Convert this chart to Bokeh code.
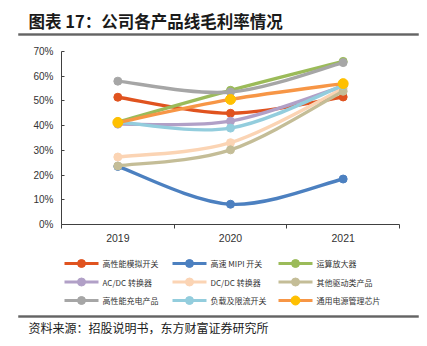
from bokeh.plotting import figure
from bokeh.layouts import column
from bokeh.models import Range1d, FixedTicker, PrintfTickFormatter, BoxAnnotation
from bokeh.core.properties import value
from bokeh.embed import file_html
from bokeh.resources import INLINE

# ---------------- data ----------------
years = ["2019", "2020", "2021"]
y_ticks = [0, 10, 20, 30, 40, 50, 60, 70]

names = ["高性能模拟开关", "高速 MIPI 开关", "运算放大器",
         "AC/DC 转换器", "DC/DC 转换器", "其他驱动类产品",
         "高性能充电产品", "负载及限流开关", "通用电源管理芯片"]

analog_switch = [51.5, 45.0, 51.6]
mipi_switch = [23.5, 8.2, 18.4]
op_amp = [41.5, 54.3, 66.0]
acdc = [40.6, 41.8, 56.0]
dcdc = [27.3, 33.1, 55.0]
other_driver = [23.7, 30.2, 53.9]
charging = [58.0, 53.6, 65.5]
load_switch = [41.5, 39.0, 56.3]
pmic = [41.3, 50.6, 57.0]

series = [analog_switch, mipi_switch, op_amp, acdc, dcdc, other_driver,
          charging, load_switch, pmic]

title_text = "图表 17：公司各产品线毛利率情况"
source_text = "资料来源：招股说明书，东方财富证券研究所"

line_colors = ["#E0531F", "#4C80C0", "#9BBB59", "#B1A0C7", "#FBD4B4",
               "#C4BD97", "#A6A6A6", "#93CDDD", "#F79646"]
marker_colors = ["#E0531F", "#4C80C0", "#9BBB59", "#B1A0C7", "#FBD4B4",
                 "#C4BD97", "#A6A6A6", "#93CDDD", "#FFC000"]
marker_sizes = [8, 8, 8, 8, 8, 8, 8, 8, 10]

W = 427
HEAD_H = 40
MAIN_H = 208
FOOT_H = 98
CJK = value("Noto Sans CJK SC")


def blank(height):
    f = figure(width=W, height=height, output_backend="svg",
               toolbar_location=None, frame_align=False,
               x_range=Range1d(0, W), y_range=Range1d(0, height),
               x_axis_location=None, y_axis_location=None,
               min_border=0, min_border_left=0, min_border_right=0,
               min_border_top=0, min_border_bottom=0, outline_line_color=None,
               background_fill_color="white", border_fill_color="white")
    f.xgrid.visible = False
    f.ygrid.visible = False
    return f


def rule(fig, y_data):
    fig.add_layout(BoxAnnotation(left=18, right=418, bottom=y_data - 0.9, top=y_data + 0.9,
                                 fill_color="#666666", fill_alpha=1.0,
                                 line_color="#666666", line_alpha=1.0, line_width=0.5,
                                 level="overlay"))


# ---------------- header ----------------
head = blank(HEAD_H)
hy = lambda y: HEAD_H - y  # canvas-from-top -> data-from-bottom
head.text(x=[28], y=[hy(20.5)], text=[title_text], text_font=CJK,
          text_font_style="bold", text_font_size="16.5px", text_color="#1a1a1a",
          text_baseline="middle", text_align="left")
rule(head, hy(34))

# ---------------- main chart ----------------
FL, FR, FT, FB = 61, 28, 11, 24
p = figure(width=W, height=MAIN_H, output_backend="svg", toolbar_location=None,
           frame_align=False,
           x_range=Range1d(0, len(years)), y_range=Range1d(0, 70),
           min_border_left=FL, min_border_right=FR, min_border_top=FT,
           min_border_bottom=FB, background_fill_color="white",
           border_fill_color="white", outline_line_color=None)
p.xgrid.visible = False
p.ygrid.visible = False

xpos = [i + 0.5 for i in range(len(years))]

xa = p.xaxis[0]
xa.ticker = FixedTicker(ticks=xpos, minor_ticks=[float(i) for i in range(len(years) + 1)])
xa.major_label_overrides = {xpos[i]: years[i] for i in range(len(years))}
xa.major_tick_line_color = None
xa.major_tick_out = 0
xa.major_tick_in = 0
xa.minor_tick_in = 0
xa.minor_tick_out = 4
xa.minor_tick_line_color = "#404040"
xa.axis_line_color = "#404040"
xa.major_label_standoff = 5
xa.major_label_text_font = "Liberation Sans"
xa.major_label_text_font_size = "10.5px"
xa.major_label_text_color = "#333333"

ya = p.yaxis[0]
ya.ticker = FixedTicker(ticks=y_ticks, minor_ticks=[])
ya.formatter = PrintfTickFormatter(format="%d%%")
ya.major_tick_in = 3
ya.major_tick_out = 0
ya.major_tick_line_color = "#404040"
ya.minor_tick_line_color = None
ya.axis_line_color = "#404040"
ya.major_label_standoff = 8
ya.major_label_text_font = "Liberation Sans"
ya.major_label_text_font_size = "10px"
ya.major_label_text_color = "#333333"


def smooth_segments(xs, ys):
    n = len(xs)
    out = dict(x0=[], y0=[], x1=[], y1=[], cx0=[], cy0=[], cx1=[], cy1=[])
    for i in range(n - 1):
        xm, ym = (xs[i - 1], ys[i - 1]) if i > 0 else (xs[i], ys[i])
        xp, yp = (xs[i + 2], ys[i + 2]) if i + 2 < n else (xs[i + 1], ys[i + 1])
        out["x0"].append(xs[i]); out["y0"].append(ys[i])
        out["x1"].append(xs[i + 1]); out["y1"].append(ys[i + 1])
        out["cx0"].append(xs[i] + (xs[i + 1] - xm) / 6)
        out["cy0"].append(ys[i] + (ys[i + 1] - ym) / 6)
        out["cx1"].append(xs[i + 1] - (xp - xs[i]) / 6)
        out["cy1"].append(ys[i + 1] - (yp - ys[i]) / 6)
    return out


for k, vals in enumerate(series):
    seg = smooth_segments(xpos, vals)
    p.bezier(line_color=line_colors[k], line_width=3.4, **seg)
    p.scatter(xpos, vals, size=marker_sizes[k], marker="circle",
              fill_color=marker_colors[k], line_color=marker_colors[k])

# ---------------- footer: legend + source ----------------
foot_top = HEAD_H + MAIN_H
foot = blank(FOOT_H)
fy = lambda y: foot_top + FOOT_H - y  # canvas-from-top -> data-from-bottom
col_line_x0 = [64, 172, 278]
row_y = [263, 281.5, 300]
glyph_w = 34
for k in range(len(names)):
    c = k % 3
    r = k // 3
    x0 = col_line_x0[c]
    y = fy(row_y[r])
    foot.line(x=[x0, x0 + glyph_w], y=[y, y], line_color=line_colors[k], line_width=3)
    foot.scatter(x=[x0 + glyph_w / 2], y=[y], size=8 if k < 8 else 9, marker="circle",
                 fill_color=marker_colors[k], line_color=marker_colors[k])
    foot.text(x=[x0 + glyph_w + 4], y=[y], text=[names[k]], text_font=CJK,
              text_font_size="8px", text_color="#333333",
              text_baseline="middle", text_align="left")

rule(foot, fy(316))
foot.text(x=[28], y=[fy(326.5)], text=[source_text], text_font=CJK,
          text_font_size="12px", text_color="#1a1a1a",
          text_baseline="middle", text_align="left")

layout = column(head, p, foot, spacing=0)
open("out.html", "w").write(file_html(layout, INLINE))
